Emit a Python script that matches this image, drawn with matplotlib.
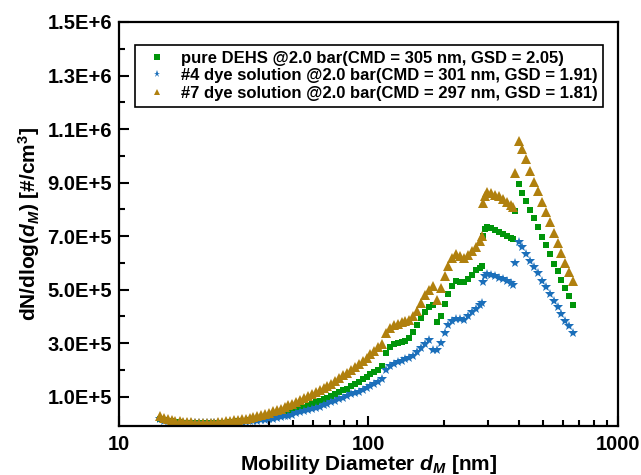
import numpy as np
import matplotlib
matplotlib.use("Agg")
import matplotlib.pyplot as plt
from matplotlib.ticker import FixedLocator, FuncFormatter, LogLocator, NullFormatter

plt.rcParams['font.family'] = ['Liberation Sans', 'DejaVu Sans']
plt.rcParams['font.weight'] = 'bold'
plt.rcParams['mathtext.fontset'] = 'custom'
plt.rcParams['mathtext.rm'] = 'Liberation Sans:bold'
plt.rcParams['mathtext.it'] = 'Liberation Sans:italic:bold'
plt.rcParams['mathtext.bf'] = 'Liberation Sans:bold'

# mobility diameter bins [nm] (four stitched scan ranges)
diam = [14.6, 15.1, 15.7, 16.3, 16.8, 17.5, 18.1, 18.8, 19.5, 20.2,
        20.9, 21.7, 22.5, 23.3, 24.1, 25.0, 25.9, 26.9, 27.9, 28.9,
        30.0, 31.1, 32.2, 33.4, 34.6, 35.9, 37.2, 38.5, 40.0, 41.4,
        42.9, 44.5, 46.1, 47.8, 49.6, 51.4, 53.3, 55.2, 57.3, 59.4,
        61.5, 63.8, 66.1, 68.5, 71.0, 73.7, 76.4, 79.1, 82.0, 85.1,
        88.2, 91.4, 94.7, 98.2, 101.8, 105.5, 109.4, 113.4, 117.6, 121.9,
        126.3, 131.0, 135.8, 140.7, 145.9, 151.2, 156.8, 162.5, 168.5, 174.7,
        181.1,
        187.7, 194.6, 201.7, 209.1, 216.7, 224.7, 232.9, 241.4, 250.3, 259.5,
        269.0, 278.8, 285.5,
        289.0, 294.0, 299.6, 310.6, 322.0, 333.8, 346.0, 358.7, 371.8, 378.5,
        385.4, 399.5, 414.2, 429.4, 445.1, 461.4, 478.3, 495.8, 514.0, 532.8,
        552.3, 572.5, 593.5, 615.3, 637.8, 661.2]

# dN/dlog(dM) in 1000 #/cm3
dehs = [18, 13, 9, 7, 5, 4, 3, 2, 1, 1,
        0, 0, 0, 0, 1, 1, 2, 3, 4, 5,
        7, 8, 10, 11, 13, 15, 17, 20, 23, 26,
        29, 33, 37, 41, 46, 51, 56, 61, 67, 72,
        78, 84, 90, 96, 102, 109, 116, 123, 130, 138,
        147, 156, 165, 174, 183, 192, 201, 213, 262, 286,
        297, 302, 305, 308, 320, 340, 366, 393, 418, 435,
        444,
        379, 402, 445, 482, 512, 532, 530, 528, 540, 556,
        572, 582, 588,
        700, 725, 734, 729, 721, 715, 707, 699, 692, 688,
        794, 895, 862, 832, 797, 766, 733, 698, 667, 633,
        596, 571, 536, 505, 477, 442]

dye4 = [15, 10, 7, 5, 3, 2, 1, 0, 0, 0,
        0, 0, 0, 0, 0, 0, 1, 1, 2, 3,
        4, 5, 6, 7, 9, 10, 12, 14, 16, 18,
        20, 23, 26, 29, 33, 37, 41, 45, 50, 54,
        58, 63, 68, 74, 80, 85, 90, 96, 102, 108,
        113, 119, 125, 132, 139, 147, 156, 165, 200, 215,
        223, 229, 234, 239, 245, 253, 265, 282, 298, 311,
        276,
        276, 302, 337, 366, 383, 391, 390, 387, 400, 416,
        429, 441, 448,
        530, 552, 560, 555, 550, 545, 539, 532, 524, 517,
        599, 679, 658, 633, 607, 583, 561, 533, 509, 482,
        458, 434, 409, 384, 364, 339]

dye7 = [28, 20, 15, 12, 10, 8, 6, 5, 4, 3,
        2, 2, 2, 2, 3, 4, 5, 7, 9, 11,
        13, 16, 18, 21, 24, 27, 30, 34, 40, 45,
        50, 55, 61, 67, 74, 81, 88, 95, 102, 109,
        116, 124, 131, 139, 147, 158, 168, 179, 190, 199,
        209, 221, 234, 246, 259, 272, 284, 297, 338, 355,
        366, 372, 377, 381, 388, 402, 420, 448, 478, 500,
        512,
        462, 505, 552, 588, 617, 632, 624, 618, 628, 643,
        660, 682, 700,
        825, 850, 865, 862, 855, 848, 838, 828, 816, 808,
        937, 1056, 1024, 987, 944, 903, 870, 828, 791, 754,
        713, 673, 638, 598, 567, 533]

labels = ['pure DEHS @2.0 bar(CMD = 305 nm, GSD = 2.05)',
          '#4 dye solution @2.0 bar(CMD = 301 nm, GSD = 1.91)',
          '#7 dye solution @2.0 bar(CMD = 297 nm, GSD = 1.81)']

y_major = [1e5, 3e5, 5e5, 7e5, 9e5, 1.1e6, 1.3e6, 1.5e6]
y_minor = [2e5, 4e5, 6e5, 8e5, 1.0e6, 1.2e6, 1.4e6]

d = np.array(diam)

fig = plt.figure(figsize=(6.41, 4.75), dpi=100)
ax = fig.add_axes([0.1856, 0.1042, 0.7785, 0.8495])

ax.plot(d, np.array(dehs) * 1e3, 's', color='#00950a', ms=5.0, mew=0, label=labels[0])
ax.plot(d, np.array(dye4) * 1e3, '*', color='#1b6fba', ms=7.0, mew=0, label=labels[1])
ax.plot(d, np.array(dye7) * 1e3, '^', color='#b0800e', ms=6.5, mew=0, label=labels[2])

ax.set_xscale('log')
ax.set_xlim(10, 1000)
ax.set_ylim(-8e3, 1.5e6)

ax.xaxis.set_major_formatter(FuncFormatter(lambda v, p: '%d' % round(v)))
ax.xaxis.set_minor_locator(LogLocator(base=10, subs=np.arange(2, 10)))
ax.xaxis.set_minor_formatter(NullFormatter())


def sci(v, p):
    m, e = ('%.1E' % v).split('E')
    return m + 'E' + e[0] + str(int(e[1:]))


ax.yaxis.set_major_locator(FixedLocator(y_major))
ax.yaxis.set_minor_locator(FixedLocator(y_minor))
ax.yaxis.set_major_formatter(FuncFormatter(sci))

ax.tick_params(which='both', direction='in', top=False, right=False, width=1.5)
ax.tick_params(which='major', length=7, labelsize=14.5)
ax.tick_params(axis='x', which='major', pad=7)
ax.tick_params(axis='y', which='major', pad=5)
ax.tick_params(which='minor', length=4)
for s in ax.spines.values():
    s.set_linewidth(1.6)

ax.set_xlabel('Mobility Diameter $d_M$ [nm]', fontsize=15, fontweight='bold', labelpad=-1)
ax.set_ylabel('dN/dlog($d_M$) [#/cm$^3$]', fontsize=15, fontweight='bold', labelpad=4)

leg = ax.legend(loc='upper left', bbox_to_anchor=(0.032, 0.943), borderaxespad=0,
                fontsize=12, numpoints=1, markerscale=0.75, fancybox=False,
                framealpha=1, edgecolor='black', handlelength=2.0, handletextpad=0.4,
                labelspacing=0.15, borderpad=0.35)
leg.get_frame().set_linewidth(1.2)

fig.savefig('out.png', dpi=100)
